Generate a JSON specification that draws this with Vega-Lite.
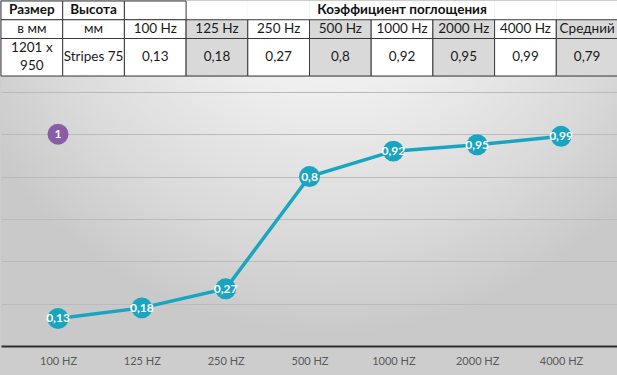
{
  "$schema": "https://vega.github.io/schema/vega-lite/v6.json",
  "padding": 0,
  "background": "#cdcdcd",
  "spacing": 0,
  "config": {
    "view": {"stroke": null},
    "font": "Lato",
    "locale": {"number": {"decimal": ",", "thousands": " ", "grouping": [3], "currency": ["", " €"]}}
  },
  "datasets": {
    "table": [
      {"col": "Размер", "unit": "в мм", "value": ["1201 x", "950"], "shaded": false, "coef": false},
      {"col": "Высота", "unit": "мм", "value": "Stripes 75", "shaded": false, "coef": false},
      {"col": "100 Hz", "unit": "100 Hz", "value": "0,13", "shaded": false, "coef": false},
      {"col": "125 Hz", "unit": "125 Hz", "value": "0,18", "shaded": true, "coef": true},
      {"col": "250 Hz", "unit": "250 Hz", "value": "0,27", "shaded": false, "coef": true},
      {"col": "500 Hz", "unit": "500 Hz", "value": "0,8", "shaded": true, "coef": true},
      {"col": "1000 Hz", "unit": "1000 Hz", "value": "0,92", "shaded": false, "coef": true},
      {"col": "2000 Hz", "unit": "2000 Hz", "value": "0,95", "shaded": true, "coef": true},
      {"col": "4000 Hz", "unit": "4000 Hz", "value": "0,99", "shaded": false, "coef": true},
      {"col": "Средний", "unit": "Средний", "value": "0,79", "shaded": true, "coef": true}
    ],
    "heads": [
      {"col": "Размер", "text": "Размер"},
      {"col": "Высота", "text": "Высота"},
      {"col": "1000 Hz", "text": "Коэффициент поглощения"}
    ],
    "absorption": [
      {"freq": "100 HZ", "value": 0.13},
      {"freq": "125 HZ", "value": 0.18},
      {"freq": "250 HZ", "value": 0.27},
      {"freq": "500 HZ", "value": 0.8},
      {"freq": "1000 HZ", "value": 0.92},
      {"freq": "2000 HZ", "value": 0.95},
      {"freq": "4000 HZ", "value": 0.99}
    ],
    "markers": [
      {"freq": "100 HZ", "level": 1, "tag": "1"}
    ]
  },
  "vconcat": [
    {
      "width": 617,
      "height": 75,
      "encoding": {
        "x": {
          "field": "col", "type": "nominal",
          "scale": {"domain": ["Размер", "Высота", "100 Hz", "125 Hz", "250 Hz", "500 Hz", "1000 Hz", "2000 Hz", "4000 Hz", "Средний"], "paddingInner": 0, "paddingOuter": 0},
          "axis": null
        }
      },
      "layer": [
        {
          "data": {"name": "table"},
          "mark": {"type": "rect", "fill": "#ffffff", "strokeWidth": 0},
          "encoding": {
            "y": {"datum": 0, "type": "quantitative", "scale": {"domain": [0, 4], "reverse": true, "nice": false, "zero": false}, "axis": null},
            "y2": {"datum": 1}
          }
        },
        {
          "data": {"name": "table"},
          "transform": [{"filter": "!datum.coef"}],
          "mark": {"type": "rect", "fill": "#ffffff", "stroke": "#3a3a3a", "strokeWidth": 1},
          "encoding": {
            "y": {"datum": 0, "type": "quantitative"},
            "y2": {"datum": 1}
          }
        },
        {
          "data": {"name": "table"},
          "mark": {"type": "rect", "stroke": "#3a3a3a", "strokeWidth": 1},
          "encoding": {
            "y": {"datum": 1, "type": "quantitative"},
            "y2": {"datum": 2},
            "fill": {"condition": {"test": "datum.shaded", "value": "#d9d9d9"}, "value": "#ffffff"}
          }
        },
        {
          "data": {"name": "table"},
          "mark": {"type": "rect", "stroke": "#3a3a3a", "strokeWidth": 1},
          "encoding": {
            "y": {"datum": 2, "type": "quantitative"},
            "y2": {"datum": 4},
            "fill": {"condition": {"test": "datum.shaded", "value": "#d9d9d9"}, "value": "#ffffff"}
          }
        },
        {
          "data": {"name": "heads"},
          "mark": {"type": "text", "fontWeight": "bold", "fontSize": 13.5, "color": "#111111", "baseline": "middle"},
          "encoding": {
            "y": {"datum": 0.5, "type": "quantitative"},
            "text": {"field": "text"}
          }
        },
        {
          "data": {"name": "table"},
          "mark": {"type": "text", "fontSize": 13.5, "color": "#1a1a1a", "baseline": "middle"},
          "encoding": {
            "y": {"datum": 1.5, "type": "quantitative"},
            "text": {"field": "unit"}
          }
        },
        {
          "data": {"name": "table"},
          "transform": [{"filter": "!isArray(datum.value)"}],
          "mark": {"type": "text", "fontSize": 13.5, "color": "#1a1a1a", "baseline": "middle", "limit": 60},
          "encoding": {
            "y": {"datum": 3, "type": "quantitative"},
            "text": {"field": "value"}
          }
        },
        {
          "data": {"name": "table"},
          "transform": [{"filter": "isArray(datum.value)"}],
          "mark": {"type": "text", "fontSize": 13.5, "color": "#1a1a1a", "baseline": "middle", "lineHeight": 18, "dy": -9},
          "encoding": {
            "y": {"datum": 3, "type": "quantitative"},
            "text": {"field": "value"}
          }
        }
      ]
    },
    {
      "width": 617,
      "height": 269,
      "view": {
        "fill": {
          "gradient": "radial",
          "x1": 0.53, "y1": 0.05, "r1": 0,
          "x2": 0.53, "y2": 0.05, "r2": 0.65,
          "stops": [
            {"offset": 0, "color": "#ffffff"},
            {"offset": 0.4, "color": "#eeeeee"},
            {"offset": 0.75, "color": "#dadada"},
            {"offset": 1, "color": "#c9c9c9"}
          ]
        }
      },
      "encoding": {
        "x": {
          "field": "freq", "type": "nominal", "sort": null,
          "scale": {"type": "point", "padding": 0.68, "domain": ["100 HZ", "125 HZ", "250 HZ", "500 HZ", "1000 HZ", "2000 HZ", "4000 HZ"]},
          "axis": {"title": null, "labelAngle": 0, "ticks": false, "domainColor": "#2e2e2e", "domainWidth": 2, "labelColor": "#595959", "labelFontSize": 11, "labelPadding": 9, "minExtent": 31, "grid": false}
        }
      },
      "layer": [
        {
          "data": {"name": "absorption"},
          "mark": {"type": "line", "color": "#19a5bf", "strokeWidth": 3.5},
          "encoding": {
            "y": {
              "field": "value", "type": "quantitative",
              "scale": {"domain": [0, 1.27], "nice": false},
              "axis": {"values": [0.2, 0.4, 0.6, 0.8, 1, 1.2], "labels": false, "ticks": false, "domain": false, "title": null, "grid": true, "gridColor": "#bababa", "gridWidth": 1}
            }
          }
        },
        {
          "data": {"name": "absorption"},
          "mark": {"type": "circle", "size": 440, "color": "#19a5bf", "opacity": 1},
          "encoding": {"y": {"field": "value", "type": "quantitative"}}
        },
        {
          "data": {"name": "absorption"},
          "mark": {"type": "text", "color": "#ffffff", "fontWeight": "bold", "fontSize": 12, "baseline": "middle"},
          "encoding": {
            "y": {"field": "value", "type": "quantitative"},
            "text": {"field": "value", "type": "quantitative", "format": ".2~f"}
          }
        },
        {
          "data": {"name": "markers"},
          "mark": {"type": "circle", "size": 440, "color": "#8a5ca8", "opacity": 1},
          "encoding": {"y": {"field": "level", "type": "quantitative"}}
        },
        {
          "data": {"name": "markers"},
          "mark": {"type": "text", "color": "#ffffff", "fontWeight": "bold", "fontSize": 12, "baseline": "middle"},
          "encoding": {
            "y": {"field": "level", "type": "quantitative"},
            "text": {"field": "tag"}
          }
        }
      ]
    }
  ]
}
